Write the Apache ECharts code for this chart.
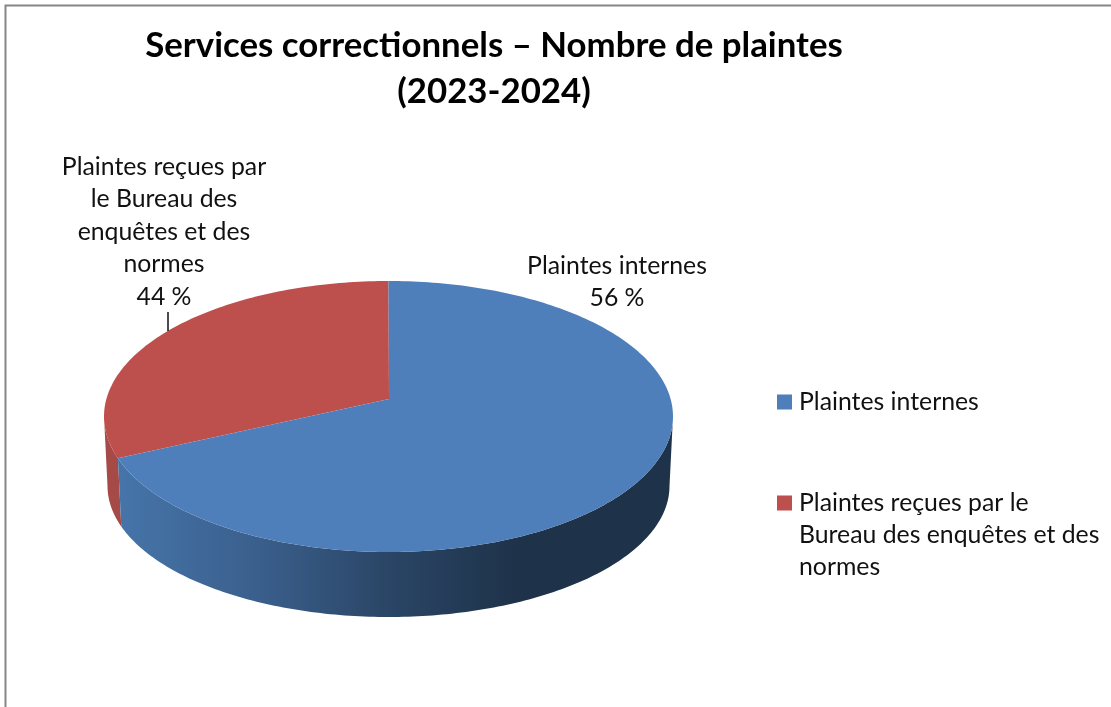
<!DOCTYPE html>
<html>
<head>
<meta charset="utf-8">
<title>Services correctionnels</title>
<script src="https://cdn.jsdelivr.net/npm/echarts@6/dist/echarts.min.js"></script>
<style>
  html, body { margin: 0; padding: 0; background: #fff; }
  #chart { width: 1111px; height: 707px; }
</style>
</head>
<body>
<div id="chart"></div>
<script>
var titleLines = ['Services correctionnels – Nombre de plaintes', '(2023-2024)'];
var categories = ['Plaintes internes', 'Plaintes reçues par le Bureau des enquêtes et des normes'];
var percents = ['56 %', '44 %'];
// share of the disc as it is drawn in the picture (it does not follow the printed percents)
var drawnShares = [70, 30];
var labelLines = [
  ['Plaintes internes'],
  ['Plaintes reçues par', 'le Bureau des', 'enquêtes et des', 'normes']
];
var legendLines = [
  ['Plaintes internes'],
  ['Plaintes reçues par le', 'Bureau des enquêtes et des', 'normes']
];

var FONT = 'Lato, "Open Sans", sans-serif';
var TEXT_SIZE = 24.8;
var chart = echarts.init(document.getElementById('chart'));

var topDisc = { cx: 388.5, cy: 416.5, rx: 284.5, ry: 135.5 };
var bottomDisc = { cx: 388.5, cy: 486, rx: 281, ry: 131 };
var apex = { x: 389, y: 399 };

function onEllipse(e, deg) {
  var a = deg * Math.PI / 180;
  return [e.cx + e.rx * Math.sin(a), e.cy - e.ry * Math.cos(a)];
}

function arc(e, from, to) {
  var pts = [];
  var n = Math.max(2, Math.ceil(Math.abs(to - from)));
  for (var i = 0; i <= n; i++) {
    pts.push(onEllipse(e, from + (to - from) * i / n));
  }
  return pts;
}

function sliceRange(idx) {
  var total = drawnShares.reduce(function (a, b) { return a + b; }, 0);
  var start = 0;
  for (var i = 0; i < idx; i++) start += drawnShares[i] / total * 360;
  return [start, start + drawnShares[idx] / total * 360];
}

var sideFills = [
  new echarts.graphic.LinearGradient(117, 0, 520, 0, [
    { offset: 0, color: '#4675aa' },
    { offset: 0.35, color: '#3a5f8c' },
    { offset: 0.68, color: '#2a4565' },
    { offset: 1, color: '#1e3249' }
  ], true),
  '#a54a47'
];
var topFills = ['#4f7fbb', '#bd4f4c'];

function renderSlice(params) {
  var idx = params.seriesIndex;
  var range = sliceRange(idx);
  var children = [];
  // wall only where the rim faces the viewer (90..270 deg clockwise from the top)
  var from = Math.max(range[0], 90);
  var to = Math.min(range[1], 270);
  if (to > from) {
    var wall = arc(topDisc, from, to).concat(arc(bottomDisc, to, from));
    children.push({ type: 'polygon', shape: { points: wall }, style: { fill: sideFills[idx] } });
  }
  return { type: 'group', children: children.concat([{
    type: 'polygon',
    shape: { points: [[apex.x, apex.y]].concat(arc(topDisc, range[0], range[1])) },
    style: { fill: topFills[idx] }
  }]) };
}

function sliceSeries(name, idx) {
  return {
    name: name,
    type: 'custom',
    coordinateSystem: 'none',
    renderItem: renderSlice,
    data: [drawnShares[idx]],
    itemStyle: { color: topFills[idx] },
    z: idx === 0 ? 3 : 2,
    silent: true
  };
}

var textStyle = { fontFamily: FONT, fontSize: TEXT_SIZE, fill: '#111', textAlign: 'center', textVerticalAlign: 'middle' };

function labelText(lines, pct, x, y) {
  return lines.concat([pct]).map(function (t, i) {
    return { type: 'text', z: 10, style: Object.assign({}, textStyle, { text: t, x: x, y: y + i * 32.5 }) };
  });
}

var graphics = [
  { type: 'polyline', z: 1, shape: { points: [[5.5, 707], [5.5, 5.5], [1111, 5.5]] }, style: { stroke: '#868686', lineWidth: 2, fill: null } },
  { type: 'line', z: 10, shape: { x1: 168, y1: 312, x2: 168, y2: 331 }, style: { stroke: '#111', lineWidth: 1.5 } }
]
  .concat(labelText(labelLines[0], percents[0], 617, 266))
  .concat(labelText(labelLines[1], percents[1], 164, 167))
  .concat(legendLines[1].slice(1).map(function (t, i) {
    return { type: 'text', z: 10, style: { text: t, x: 799, y: 535 + i * 32.5, fontFamily: FONT, fontSize: TEXT_SIZE, fill: '#111', textVerticalAlign: 'middle' } };
  }));

var option = {
  animation: false,
  backgroundColor: '#fff',
  title: {
    text: titleLines.join('\n'),
    left: 489,
    top: 18,
    textAlign: 'center',
    textStyle: { fontFamily: FONT, fontWeight: 'bold', fontSize: 34.8, lineHeight: 46, color: '#000' }
  },
  legend: {
    orient: 'vertical',
    left: 777,
    top: 389,
    padding: 0,
    icon: 'rect',
    itemWidth: 15,
    itemHeight: 15,
    itemGap: 75,
    selectedMode: false,
    data: categories,
    formatter: function (name) {
      return legendLines[categories.indexOf(name)][0];
    },
    textStyle: { fontFamily: FONT, fontSize: TEXT_SIZE, color: '#111', padding: [0, 0, 0, 2], height: 26, lineHeight: 26 }
  },
  graphic: graphics,
  series: categories.map(sliceSeries)
};

chart.setOption(option);
</script>
</body>
</html>
